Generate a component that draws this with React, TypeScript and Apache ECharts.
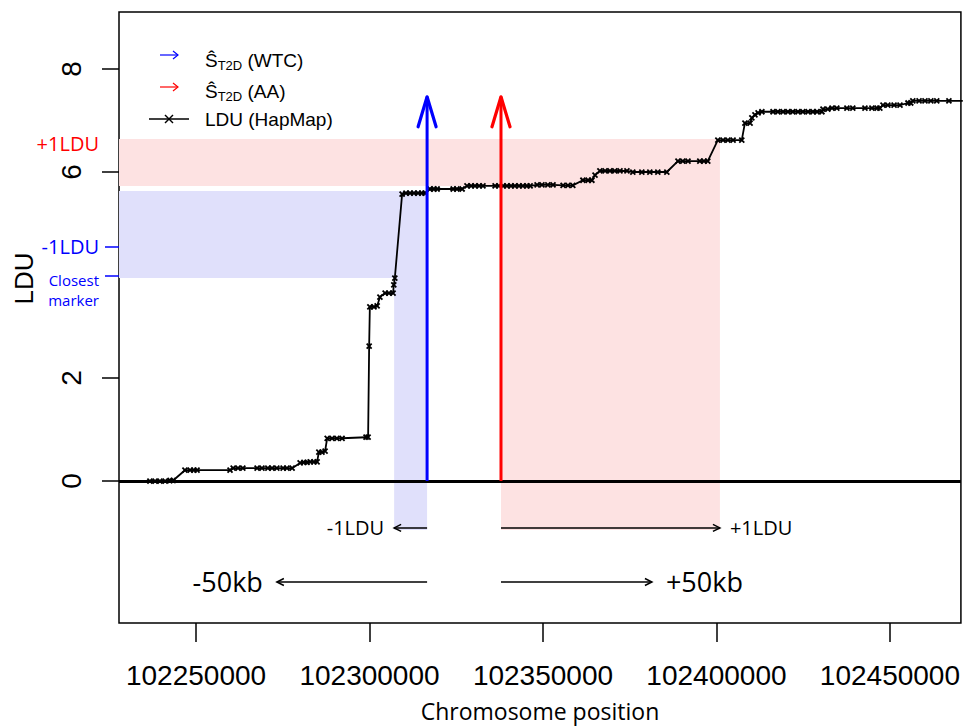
import React, { useEffect, useRef } from "react";
import * as echarts from "echarts";

// ---- data ----
const positions = [
  102236700, 102238200, 102239600, 102241100, 102242500, 102243400, 102246800, 102248300,
  102249400, 102250300, 102259800, 102260700, 102262100, 102263500, 102267600, 102269000,
  102270700, 102271900, 102273300, 102275100, 102276200, 102277700, 102280000, 102281100,
  102282000, 102282900, 102284000, 102284900, 102285400, 102286300, 102287200, 102287800,
  102289200, 102290600, 102292100, 102299000, 102299600, 102299900, 102300100, 102301300,
  102302200, 102303000, 102304500, 102305600, 102306800, 102307000, 102307300, 102309400,
  102310500, 102311700, 102312800, 102314000, 102315100, 102316000, 102317400, 102318600,
  102319500, 102324100, 102325200, 102326700, 102328100, 102329300, 102330400, 102331600,
  102332700, 102336200, 102337300, 102338500, 102339600, 102340800, 102341900, 102343100,
  102344200, 102345400, 102346300, 102348300, 102349700, 102351400, 102352900, 102355800,
  102357200, 102358600, 102361500, 102363000, 102364100, 102365000, 102366400, 102367900,
  102369300, 102370700, 102372200, 102374200, 102375900, 102378500, 102380800, 102383100,
  102385700, 102388900, 102390300, 102391800, 102395200, 102396400, 102397500, 102400400,
  102401900, 102403300, 102404800, 102407300, 102408200, 102409700, 102410200, 102411100,
  102412000, 102413100, 102416300, 102417700, 102419200, 102420600, 102422000, 102423500,
  102424900, 102426400, 102427800, 102429000, 102430400, 102430700, 102432100, 102433300,
  102434700, 102437600, 102439300, 102442800, 102444800, 102446300, 102447100, 102448000,
  102449400, 102451200, 102452900, 102455200, 102456000, 102456600, 102458400, 102460100,
  102461800, 102463500, 102467000, 102471000,
];
const lduValues = [
  0.0, 0.0, 0.0, 0.0, 0.01, 0.01, 0.21, 0.21,
  0.21, 0.21, 0.21, 0.25, 0.25, 0.25, 0.25, 0.25,
  0.25, 0.25, 0.25, 0.25, 0.25, 0.25, 0.35, 0.36,
  0.36, 0.37, 0.37, 0.37, 0.56, 0.56, 0.58, 0.83,
  0.83, 0.83, 0.83, 0.85, 0.85, 2.62, 3.38, 3.38,
  3.4, 3.57, 3.65, 3.65, 3.65, 3.81, 3.94, 5.57,
  5.59, 5.59, 5.59, 5.59, 5.59, 5.59, 5.67, 5.67,
  5.67, 5.67, 5.67, 5.67, 5.73, 5.73, 5.73, 5.73,
  5.73, 5.73, 5.73, 5.73, 5.73, 5.73, 5.73, 5.73,
  5.73, 5.73, 5.73, 5.75, 5.75, 5.75, 5.75, 5.74,
  5.74, 5.74, 5.84, 5.84, 5.84, 5.94, 6.02, 6.02,
  6.02, 6.02, 6.02, 6.02, 6.0, 6.0, 6.0, 6.0,
  6.0, 6.21, 6.21, 6.21, 6.21, 6.21, 6.21, 6.62,
  6.62, 6.62, 6.62, 6.62, 6.95, 6.95, 7.05, 7.11,
  7.15, 7.17, 7.17, 7.17, 7.17, 7.17, 7.17, 7.17,
  7.17, 7.17, 7.17, 7.17, 7.17, 7.22, 7.22, 7.24,
  7.24, 7.24, 7.24, 7.24, 7.24, 7.24, 7.24, 7.3,
  7.3, 7.3, 7.3, 7.34, 7.34, 7.38, 7.38, 7.38,
  7.38, 7.38, 7.38, 7.38,
];

const xTickValues = [102250000, 102300000, 102350000, 102400000, 102450000];
const yTickValues = [0, 2, 6, 8];
const xMin = 102227800;
const xMax = 102470460;
const yMin = -2.757;
const yMax = 9.107;

// signals
const wtcPosition = 102316600;
const aaPosition = 102337900;
const arrowTopLdu = 7.46;
const wtcLdu = 5.63;
const closestMarkerLdu = 3.94;
const closestMarkerPosition = 102307100;
const aaLdu = 5.73;
const aaPlusOneLdu = 6.64;
const plusOneLduPosition = 102401000;
const windowBottomLdu = -0.95;

// extra y-axis annotations
const sideTickValues = [4.55, 3.98];
const sideLabelValues = [6.56, 4.55, 3.71];
const sideLabelTexts = ["{r|+1LDU}", "{b|-1LDU}", "{c|Closest}\n{c|marker}"];

// horizontal window arrows
const spanStarts = [102316600, 102337900, 102316600, 102337900];
const spanEnds = [102307100, 102401000, 102273300, 102381400];
const spanLevels = [-0.91, -0.91, -1.96, -1.96];
const spanLabels = ["-1LDU", "+1LDU", "-50kb", "+50kb"];

const HELV = "'Liberation Sans', Arial, Helvetica, sans-serif";
const MYRIAD = "'Open Sans', 'Noto Sans', sans-serif";
const BLUE = "#0000ff";
const RED = "#ff0000";

function verticalArrow(color: string) {
  return (params: any, api: any) => {
    const base = api.coord([api.value(0), api.value(1)]);
    const tip = api.coord([api.value(0), api.value(2)]);
    return {
      type: "group",
      children: [
        {
          type: "line",
          shape: { x1: base[0], y1: base[1], x2: tip[0], y2: tip[1] },
          style: { stroke: color, lineWidth: 3 },
        },
        {
          type: "polyline",
          shape: {
            points: [
              [tip[0] - 9, tip[1] + 30],
              [tip[0], tip[1]],
              [tip[0] + 9, tip[1] + 30],
            ],
          },
          style: { stroke: color, lineWidth: 3.2, fill: null, lineJoin: "round", lineCap: "round" },
        },
      ],
    };
  };
}

export default function App() {
  const ref = useRef<HTMLDivElement>(null);

  useEffect(() => {
    if (!ref.current) return;
    const chart = echarts.init(ref.current, null, { renderer: "svg" });

    const curve = positions.map((p, i) => [p, lduValues[i]]);

    const option: any = {
      animation: false,
      backgroundColor: "#ffffff",
      grid: {
        left: 119,
        right: 2,
        top: 12,
        bottom: 105,
        show: true,
        borderColor: "#000",
        borderWidth: 1.5,
        backgroundColor: "transparent",
      },
      xAxis: {
        type: "value",
        min: xMin,
        max: xMax,
        name: "Chromosome position",
        nameLocation: "middle",
        nameGap: 76,
        nameTextStyle: { fontFamily: MYRIAD, fontSize: 23, color: "#000" },
        axisLine: { show: false, onZero: false },
        splitLine: { show: false },
        axisTick: {
          show: true,
          inside: false,
          length: 19,
          customValues: xTickValues,
          lineStyle: { color: "#000", width: 1.5 },
        },
        axisLabel: {
          customValues: xTickValues,
          margin: 38,
          fontFamily: HELV,
          fontSize: 28,
          color: "#000",
          formatter: (v: number) => String(v),
        },
      },
      yAxis: [
        {
          type: "value",
          min: yMin,
          max: yMax,
          name: "LDU",
          nameLocation: "middle",
          nameGap: 82,
          nameRotate: 90,
          nameTextStyle: {
            fontFamily: HELV,
            fontSize: 26,
            color: "#000",
            padding: [0, 0, 0, 78],
          },
          axisLine: { show: false, onZero: false },
          splitLine: { show: false },
          axisTick: {
            show: true,
            inside: false,
            length: 17,
            customValues: yTickValues,
            lineStyle: { color: "#000", width: 1.5 },
          },
          axisLabel: {
            customValues: yTickValues,
            rotate: 90,
            margin: 34,
            fontFamily: HELV,
            fontSize: 28,
            color: "#000",
          },
        },
        {
          type: "value",
          position: "left",
          offset: 0,
          min: yMin,
          max: yMax,
          axisLine: { show: false, onZero: false },
          splitLine: { show: false },
          axisTick: {
            show: true,
            inside: false,
            length: 14,
            customValues: sideTickValues,
            lineStyle: { color: BLUE, width: 1.5 },
          },
          axisLabel: {
            customValues: sideLabelValues,
            margin: 20,
            formatter: (v: number) => {
              const i = sideLabelValues.findIndex((s) => Math.abs(s - v) < 1e-6);
              return i >= 0 ? sideLabelTexts[i] : "";
            },
            rich: {
              r: { color: RED, fontFamily: MYRIAD, fontSize: 20 },
              b: { color: BLUE, fontFamily: MYRIAD, fontSize: 20 },
              c: { color: BLUE, fontFamily: MYRIAD, fontSize: 15, lineHeight: 20 },
            },
          },
        },
      ],
      series: [
        {
          name: "windows",
          type: "line",
          data: [],
          z: 1,
          silent: true,
          markArea: {
            silent: true,
            label: { show: false },
            data: [
              [
                { coord: [xMin, aaLdu], itemStyle: { color: "#fde2e2" } },
                { coord: [plusOneLduPosition, aaPlusOneLdu] },
              ],
              [
                { coord: [aaPosition, windowBottomLdu], itemStyle: { color: "#fde2e2" } },
                { coord: [plusOneLduPosition, aaLdu] },
              ],
              [
                { coord: [xMin, closestMarkerLdu], itemStyle: { color: "#e0e0fb" } },
                { coord: [wtcPosition, wtcLdu] },
              ],
              [
                { coord: [closestMarkerPosition, windowBottomLdu], itemStyle: { color: "#e0e0fb" } },
                { coord: [wtcPosition, closestMarkerLdu] },
              ],
            ],
          },
        },
        {
          name: "LDU (HapMap)",
          type: "line",
          data: curve,
          z: 5,
          clip: true,
          showAllSymbol: true,
          symbol: "path://M0,0L10,10M10,0L0,10",
          symbolSize: 5,
          lineStyle: { color: "#000", width: 1.8 },
          itemStyle: { color: "#000", borderColor: "#000", borderWidth: 1.8 },
          markLine: {
            silent: true,
            symbol: ["none", "none"],
            label: { show: false },
            lineStyle: { color: "#000", width: 3, type: "solid" },
            data: [{ yAxis: 0 }],
          },
        },
        {
          name: "Ŝ T2D (WTC)",
          type: "custom",
          z: 6,
          renderItem: verticalArrow(BLUE),
          encode: { x: 0, y: [1, 2] },
          data: [[wtcPosition, 0, arrowTopLdu]],
        },
        {
          name: "Ŝ T2D (AA)",
          type: "custom",
          z: 6,
          renderItem: verticalArrow(RED),
          encode: { x: 0, y: [1, 2] },
          data: [[aaPosition, 0, arrowTopLdu]],
        },
        {
          name: "windows arrows",
          type: "custom",
          z: 6,
          encode: { x: [0, 1], y: 2 },
          data: spanStarts.map((s, i) => [s, spanEnds[i], spanLevels[i]]),
          renderItem: (params: any, api: any) => {
            const s = api.coord([api.value(0), api.value(2)]);
            const e = api.coord([api.value(1), api.value(2)]);
            const dir = e[0] > s[0] ? 1 : -1;
            const label = spanLabels[params.dataIndex];
            const big = label.indexOf("kb") >= 0;
            return {
              type: "group",
              children: [
                {
                  type: "line",
                  shape: { x1: s[0], y1: s[1], x2: e[0], y2: e[1] },
                  style: { stroke: "#000", lineWidth: 1.5 },
                },
                {
                  type: "polyline",
                  shape: {
                    points: [
                      [e[0] - dir * 7, e[1] - 3.5],
                      [e[0], e[1]],
                      [e[0] - dir * 7, e[1] + 3.5],
                    ],
                  },
                  style: { stroke: "#000", lineWidth: 1.5, fill: null },
                },
                {
                  type: "text",
                  x: e[0] + dir * (big ? 14 : 10),
                  y: e[1],
                  style: {
                    text: label,
                    fontFamily: MYRIAD,
                    fontSize: big ? 27 : 20,
                    fill: "#000",
                    align: dir > 0 ? "left" : "right",
                    verticalAlign: "middle",
                  },
                },
              ],
            };
          },
        },
      ],
      graphic: [
        {
          type: "group",
          children: [
            { type: "line", shape: { x1: 160, y1: 55, x2: 178, y2: 55 }, style: { stroke: BLUE, lineWidth: 1.2 } },
            {
              type: "polyline",
              shape: { points: [[173, 51], [178, 55], [173, 59]] },
              style: { stroke: BLUE, lineWidth: 1.2, fill: null },
            },
            { type: "line", shape: { x1: 160, y1: 87, x2: 178, y2: 87 }, style: { stroke: RED, lineWidth: 1.2 } },
            {
              type: "polyline",
              shape: { points: [[173, 83], [178, 87], [173, 91]] },
              style: { stroke: RED, lineWidth: 1.2, fill: null },
            },
            { type: "line", shape: { x1: 149, y1: 119, x2: 189, y2: 119 }, style: { stroke: "#000", lineWidth: 1.5 } },
            { type: "line", shape: { x1: 165, y1: 115, x2: 173, y2: 123 }, style: { stroke: "#000", lineWidth: 1.5 } },
            { type: "line", shape: { x1: 165, y1: 123, x2: 173, y2: 115 }, style: { stroke: "#000", lineWidth: 1.5 } },
            {
              type: "text",
              x: 205,
              y: 60,
              style: {
                text: "{s|Ŝ}{t|T2D}{s| (WTC)}",
                verticalAlign: "middle",
                rich: {
                  s: { fontFamily: HELV, fontSize: 19, fill: "#000", color: "#000" },
                  t: { fontFamily: HELV, fontSize: 13, fill: "#000", color: "#000", padding: [10, 0, 0, 0] },
                },
              },
            },
            {
              type: "text",
              x: 205,
              y: 91,
              style: {
                text: "{s|Ŝ}{t|T2D}{s| (AA)}",
                verticalAlign: "middle",
                rich: {
                  s: { fontFamily: HELV, fontSize: 19, fill: "#000", color: "#000" },
                  t: { fontFamily: HELV, fontSize: 13, fill: "#000", color: "#000", padding: [10, 0, 0, 0] },
                },
              },
            },
            {
              type: "text",
              x: 205,
              y: 119,
              style: {
                text: "LDU (HapMap)",
                fontFamily: HELV,
                fontSize: 19,
                fill: "#000",
                verticalAlign: "middle",
              },
            },
          ],
        },
      ],
    };

    chart.setOption(option);
    return () => chart.dispose();
  }, []);

  return (
    <div
      ref={ref}
      style={{ position: "absolute", left: 0, top: 0, width: 963, height: 728, background: "#fff" }}
    />
  );
}
